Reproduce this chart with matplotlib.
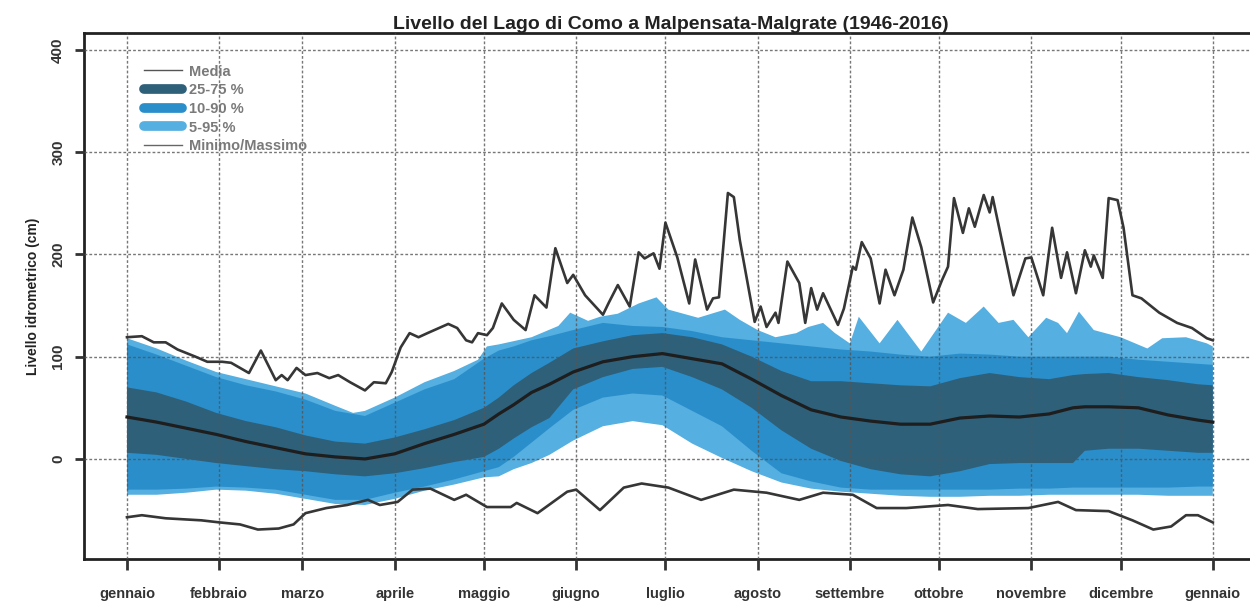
import matplotlib
matplotlib.use('Agg')
import matplotlib.pyplot as plt
from matplotlib.lines import Line2D
import numpy as np

plt.rcParams['font.family'] = ['Liberation Sans', 'DejaVu Sans']

# giorno dell'anno (0 = 1 gennaio) e livelli in cm
days = [0, 10, 20, 30, 40, 50, 60, 70, 80, 90, 100, 110, 120, 125, 130, 136, 142, 150, 160, 170,
        180, 190, 200, 210, 220, 230, 240, 250, 260, 270, 280, 290, 300, 310, 318, 322, 330, 340,
        350, 360, 365]
media = [41, 36, 30, 24, 17, 11, 5, 2, 0, 5, 15, 24, 34, 44, 53, 65, 73, 85, 95, 100,
         103, 98, 93, 78, 62, 48, 41, 37, 34, 34, 40, 42, 41, 44, 50, 51, 51, 50,
         43, 38, 36]
q75 = [70, 65, 56, 45, 37, 31, 23, 17, 15, 21, 29, 38, 50, 60, 72, 84, 94, 108, 115, 121,
       123, 119, 112, 100, 86, 76, 76, 74, 72, 71, 79, 84, 80, 78, 82, 83, 84, 80,
       77, 73, 72]
q25 = [6, 4, 0, -4, -7, -10, -12, -15, -17, -14, -9, -3, 2, 10, 20, 31, 40, 68, 80, 88,
       90, 80, 68, 50, 28, 10, -2, -10, -15, -17, -12, -5, -4, -4, -4, 8, 10, 10,
       8, 6, 6]
q90 = [112, 102, 91, 80, 72, 66, 58, 47, 42, 55, 68, 78, 98, 106, 110, 116, 120, 126, 133, 130,
       129, 125, 119, 116, 113, 110, 107, 105, 102, 100, 103, 102, 100, 100, 100, 100, 100, 97,
       95, 93, 92]
q10 = [-30, -30, -29, -27, -28, -30, -35, -40, -40, -33, -27, -20, -12, -8, 2, 16, 30, 48, 60, 64,
       62, 47, 32, 8, -14, -22, -28, -30, -30, -30, -30, -30, -29, -29, -28, -28, -28, -28,
       -28, -27, -27]
q05 = [-35, -35, -33, -30, -31, -34, -39, -44, -45, -39, -31, -25, -18, -17, -10, -4, 4, 18, 32, 37,
       33, 15, 1, -12, -23, -29, -32, -34, -36, -37, -37, -36, -36, -35, -35, -35, -35, -35,
       -36, -36, -36]

q95_days = [0, 10, 20, 30, 40, 50, 60, 70, 76, 80, 90, 100, 110, 118, 121, 125, 136, 145, 149, 155,
            159, 165, 172, 178, 182, 192, 201, 206, 212, 218, 225, 229, 234, 238, 243, 246, 253, 259,
            267, 276, 282, 288, 293, 298, 303, 309, 313, 316, 320, 325, 334, 343, 348, 356, 363, 365]
q95 = [118, 108, 96, 85, 78, 71, 64, 52, 45, 47, 60, 75, 86, 97, 110, 112, 119, 130, 143, 135,
       139, 142, 152, 158, 146, 138, 146, 136, 126, 119, 123, 129, 133, 123, 113, 139, 113, 136,
       105, 143, 133, 149, 133, 136, 119, 138, 133, 123, 144, 126, 119, 108, 118, 119, 113, 110]

min_days = [0, 5, 13, 25, 31, 38, 44, 51, 56, 60, 67, 74, 81, 85, 91, 96, 102, 110, 114, 121,
            129, 131, 138, 148, 151, 159, 167, 173, 182, 193, 204, 215, 226, 234, 244, 252, 262,
            276, 286, 303, 313, 319, 330, 338, 345, 351, 356, 360, 365]
minimo = [-57, -55, -58, -60, -62, -64, -69, -68, -64, -53, -48, -45, -40, -45, -42, -30, -29, -40, -35, -47,
          -47, -43, -53, -32, -30, -50, -28, -24, -28, -40, -30, -33, -40, -33, -35, -48, -48,
          -45, -49, -48, -42, -50, -51, -60, -69, -66, -55, -55, -62]

max_days = [0, 5, 9, 13, 17, 23, 27, 32, 35, 41, 45, 50, 52, 54, 57, 60, 64, 68, 71, 75,
            80, 83, 87, 89, 92, 95, 98, 101, 108, 111, 114, 116, 118, 121, 123, 126, 130, 134, 137, 141,
            144, 148, 150, 154, 160, 162, 165, 169, 172, 174, 177, 179, 181, 185, 189, 191, 195, 197, 199, 202,
            204, 206, 211, 213, 215, 218, 219, 222, 226, 228, 230, 232, 234, 239, 241, 244, 245, 247, 250, 253,
            255, 258, 261, 264, 267, 271, 274, 276, 278, 281, 283, 285, 288, 290, 291, 298, 302, 304, 308, 311,
            314, 316, 319, 322, 324, 325, 328, 330, 333, 335, 338, 341, 347, 353, 358, 363, 365]
massimo = [119, 120, 114, 114, 107, 100, 95, 95, 94, 84, 106, 77, 82, 77, 89, 82, 84, 79, 82, 75,
           67, 75, 74, 85, 109, 123, 119, 123, 132, 128, 116, 114, 123, 121, 128, 152, 136, 126, 160, 148,
           206, 172, 180, 160, 141, 153, 170, 149, 202, 196, 201, 186, 231, 197, 152, 195, 146, 157, 158, 260,
           256, 214, 134, 149, 129, 143, 133, 193, 172, 133, 167, 146, 162, 131, 147, 188, 185, 212, 196, 152,
           185, 160, 185, 236, 207, 153, 175, 188, 255, 221, 245, 227, 258, 241, 256, 160, 196, 197, 160, 226,
           177, 202, 162, 204, 188, 199, 177, 255, 253, 226, 160, 157, 143, 133, 128, 118, 116]

month_starts = [0, 31, 59, 90, 120, 151, 181, 212, 243, 273, 304, 334, 365]
month_names = ['gennaio', 'febbraio', 'marzo', 'aprile', 'maggio', 'giugno', 'luglio', 'agosto',
               'settembre', 'ottobre', 'novembre', 'dicembre', 'gennaio']

c_dark = '#2f6079'
c_mid = '#2a8ecb'
c_light = '#55afe0'

fig = plt.figure(figsize=(12.5, 6.03), dpi=100)
ax = fig.add_axes([84 / 1250, 1 - 559 / 603, (1258 - 84) / 1250, (559 - 33) / 603])

# bande come poligoni: bordo superiore + bordo inferiore al contrario
ax.fill(np.concatenate([q95_days, days[::-1]]), np.concatenate([q95, q05[::-1]]),
        color=c_light, lw=0, zorder=1)
ax.fill(np.concatenate([days, days[::-1]]), np.concatenate([q90, q10[::-1]]),
        color=c_mid, lw=0, zorder=1.1)
ax.fill(np.concatenate([days, days[::-1]]), np.concatenate([q75, q25[::-1]]),
        color=c_dark, lw=0, zorder=1.2)

ax.plot(days, media, color='#1e1e1e', lw=2.3, zorder=3)
ax.plot(min_days, minimo, color='#363636', lw=1.9, zorder=3)
ax.plot(max_days, massimo, color='#363636', lw=1.9, zorder=3)

ax.set_xlim(-14.45, 380.2)
ax.set_ylim(-97.8, 416.4)
ax.set_xticks(month_starts)
ax.set_xticklabels(month_names)
ax.set_yticks([0, 100, 200, 300, 400])

ax.set_axisbelow(False)
ax.grid(True, linestyle=(0, (2, 1.5)), color='#555555', linewidth=1.0, alpha=0.8)

for s in ax.spines.values():
    s.set_linewidth(2)
    s.set_color('#222222')

ax.tick_params(axis='x', direction='out', length=8, width=2, pad=12,
               labelsize=10.5, labelcolor='#333333', color='#333333')
ax.tick_params(axis='y', direction='out', length=6.5, width=2, pad=7,
               labelsize=11, labelcolor='#333333', color='#333333', labelrotation=90)
for lab in ax.get_xticklabels() + ax.get_yticklabels():
    lab.set_fontweight('bold')
for lab in ax.get_yticklabels():
    lab.set_verticalalignment('center')

ax.set_ylabel('Livello idrometrico (cm)', fontsize=10, fontweight='bold', color='#222222')
ax.yaxis.set_label_coords(-0.0375, 0.5)
ax.set_title('Livello del Lago di Como a Malpensata-Malgrate (1946-2016)',
             fontsize=14, fontweight='bold', color='#222222', pad=1)

handles = [
    Line2D([], [], color='#555555', lw=1),
    Line2D([], [], color=c_dark, lw=7, solid_capstyle='round'),
    Line2D([], [], color=c_mid, lw=7, solid_capstyle='round'),
    Line2D([], [], color=c_light, lw=7, solid_capstyle='round'),
    Line2D([], [], color='#666666', lw=1),
]
labels = ['Media', '25-75 %', '10-90 %', '5-95 %', 'Minimo/Massimo']
ax.legend(handles, labels, loc='upper left', bbox_to_anchor=(0.051, 0.94), frameon=False,
          prop={'size': 10.5, 'weight': 'bold'}, labelcolor='#7a7a7a', handlelength=2.6,
          handletextpad=0.5, labelspacing=0.32, borderpad=0, borderaxespad=0)

plt.savefig('out.png', dpi=100)
